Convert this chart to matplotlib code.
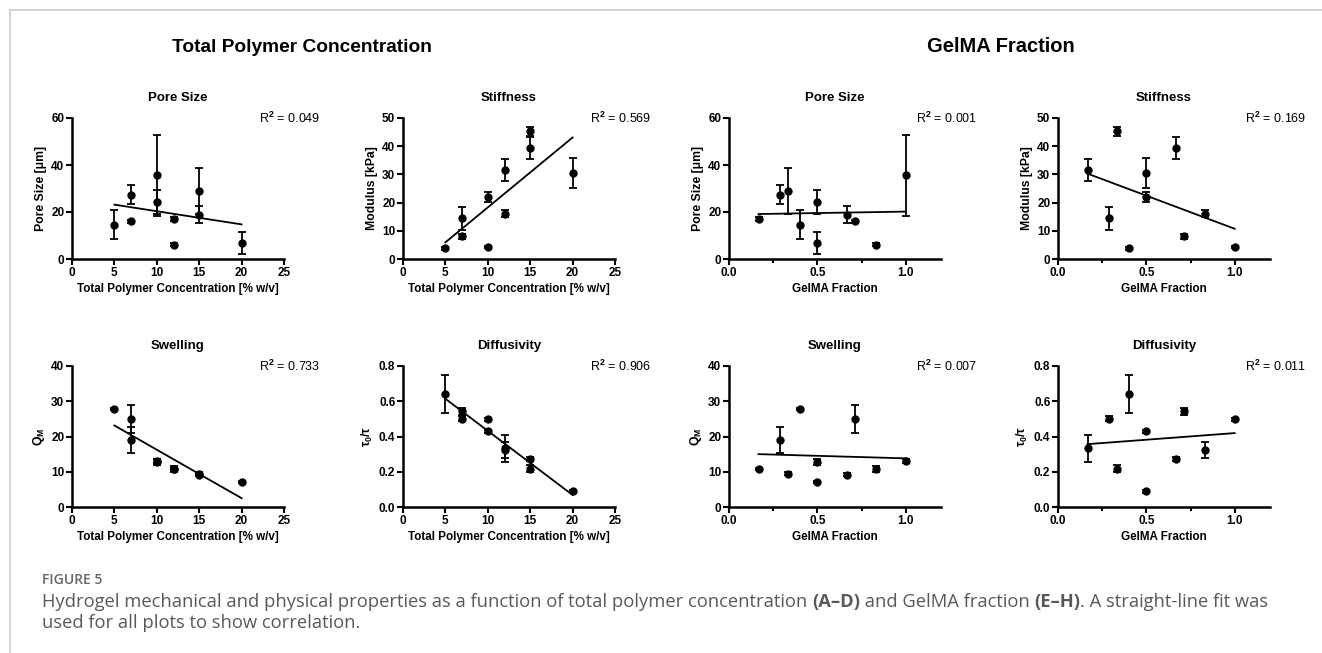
import numpy as np
import matplotlib
matplotlib.use("Agg")
import matplotlib.pyplot as plt
from matplotlib.lines import Line2D

plt.rcParams['font.family'] = ['Liberation Sans', 'DejaVu Sans']
plt.rcParams['mathtext.fontset'] = 'custom'
plt.rcParams['mathtext.rm'] = 'Liberation Sans:bold'
plt.rcParams['mathtext.it'] = 'Liberation Sans:bold'
plt.rcParams['mathtext.bf'] = 'Liberation Sans:bold'

# ten formulations: total polymer concentration [% w/v] and GelMA fraction
conc = [5, 7, 7, 10, 10, 12, 12, 15, 15, 20]
gelma_frac = [0.4, 0.286, 0.714, 1.0, 0.5, 0.167, 0.833, 0.333, 0.667, 0.5]

# measured properties (mean, error) per formulation
pore_mean = [14.6, 27.4, 16.0, 35.7, 24.3, 17.1, 6.1, 29.0, 18.9, 6.9]
pore_err = [6.3, 4.0, 0.8, 17.2, 5.0, 0.8, 0.5, 9.8, 3.7, 4.6]
stiff_mean = [3.8, 14.5, 8.0, 4.2, 22.0, 31.5, 16.1, 45.3, 39.4, 30.4]
stiff_err = [0.5, 4.1, 1.0, 0.4, 1.8, 4.0, 1.2, 1.6, 3.8, 5.3]
swell_mean = [27.9, 19.0, 24.9, 13.0, 12.7, 10.8, 10.7, 9.4, 9.2, 7.0]
swell_err = [0.3, 3.7, 4.0, 0.6, 0.9, 0.4, 0.9, 0.4, 0.4, 0.3]
diff_mean = [0.641, 0.502, 0.544, 0.498, 0.430, 0.332, 0.322, 0.216, 0.273, 0.089]
diff_err = [0.107, 0.015, 0.02, 0.008, 0.008, 0.079, 0.045, 0.02, 0.01, 0.008]

r2_conc = ["0.049", "0.569", "0.733", "0.906"]
r2_frac = ["0.001", "0.169", "0.007", "0.011"]

W, H = 1322, 653
fig = plt.figure(figsize=(W / 100, H / 100), dpi=100)


def px_axes(left, top, width, height):
    return fig.add_axes([left / W, 1 - (top + height) / H, width / W, height / H])


def panel(ax, x, y, err, title, ylabel, xlabel, r2, xlim, xticks, xlabels, ylim, yticks, ylabels, minor=None):
    ax.errorbar(x, y, yerr=err, fmt='o', color='black', markersize=5,
                elinewidth=1.3, capsize=2.7, capthick=1.3, clip_on=False, zorder=3)
    # straight-line fit over the data range
    k, b = np.polyfit(x, y, 1)
    xs = np.array([min(x), max(x)])
    ax.plot(xs, k * xs + b, color='black', lw=1.3)
    ax.set_xlim(xlim)
    ax.set_ylim(ylim)
    ax.set_xticks(xticks)
    ax.set_xticklabels(xlabels)
    ax.set_yticks(yticks)
    ax.set_yticklabels(ylabels)
    if minor is not None:
        ax.set_xticks(minor, minor=True)
        ax.tick_params(axis='x', which='minor', length=3, width=1.5)
    for s in ['top', 'right']:
        ax.spines[s].set_visible(False)
    for s in ['left', 'bottom']:
        ax.spines[s].set_linewidth(1.8)
    ax.tick_params(which='major', length=4, width=1.5, labelsize=8.5, pad=1.5)
    for lab in ax.get_xticklabels() + ax.get_yticklabels():
        lab.set_fontweight('bold')
    ax.set_title(title, fontsize=9.5, fontweight='bold', pad=12)
    ax.set_ylabel(ylabel, fontsize=8.8, fontweight='bold', labelpad=3)
    ax.set_xlabel(xlabel, fontsize=8.4, fontweight='bold', labelpad=3)
    ax.text(1.17, 1.0, "R$^{2}$ = " + r2, transform=ax.transAxes, ha='right', va='center',
            fontsize=9, fontweight='normal')


col_left = [72, 403, 729, 1058]
row_top = [118, 366]
aw, ah = 212, 141

conc_ticks = [0, 5, 10, 15, 20, 25]
conc_labels = [str(t) for t in conc_ticks]
frac_ticks = [0.0, 0.5, 1.0]
frac_labels = ["0.0", "0.5", "1.0"]
xlab_c = "Total Polymer Concentration [% w/v]"
xlab_f = "GelMA Fraction"

props = [
    ("Pore Size", "Pore Size [\u03bcm]", pore_mean, pore_err, (0, 60), [0, 20, 40, 60], ["0", "20", "40", "60"]),
    ("Stiffness", "Modulus [kPa]", stiff_mean, stiff_err, (0, 50), [0, 10, 20, 30, 40, 50],
     ["0", "10", "20", "30", "40", "50"]),
    ("Swelling", "Q$_{M}$", swell_mean, swell_err, (0, 40), [0, 10, 20, 30, 40], ["0", "10", "20", "30", "40"]),
    ("Diffusivity", r"$\tau_0$/$\tau$", diff_mean, diff_err, (0, 0.8), [0, 0.2, 0.4, 0.6, 0.8],
     ["0.0", "0.2", "0.4", "0.6", "0.8"]),
]

for i, (title, ylab, m, e, ylim, yt, yl) in enumerate(props):
    row = i // 2
    c = i % 2
    ax = px_axes(col_left[c], row_top[row], aw, ah)
    panel(ax, conc, m, e, title, ylab, xlab_c, r2_conc[i], (0, 25), conc_ticks, conc_labels, ylim, yt, yl)
    ax = px_axes(col_left[c + 2], row_top[row], aw, ah)
    panel(ax, gelma_frac, m, e, title, ylab, xlab_f, r2_frac[i], (0, 1.2), frac_ticks, frac_labels, ylim, yt, yl,
          minor=[0.25, 0.75])

fig.text(302 / W, 1 - 47 / H, "Total Polymer Concentration", ha='center', va='center',
         fontsize=13.8, fontweight='bold')
fig.text(1001 / W, 1 - 47 / H, "GelMA Fraction", ha='center', va='center',
         fontsize=14.5, fontweight='bold')

# light frame lines of the page
fig.add_artist(Line2D([10 / W, 1], [1 - 10 / H, 1 - 10 / H], color='#cccccc', lw=1.2))
fig.add_artist(Line2D([10 / W, 10 / W], [0, 1 - 10 / H], color='#cccccc', lw=1.2))

# caption
cap_color = '#595959'
fig.text(42 / W, 1 - 580 / H, "FIGURE 5", fontsize=10, color='#666666', family='Open Sans',
         va='center', fontweight='semibold')
renderer = fig.canvas.get_renderer()


def run_text(x_px, y_px, parts):
    for s, wt in parts:
        t = fig.text(x_px / W, 1 - y_px / H, s, fontsize=13.2, color=cap_color, family='Open Sans',
                     fontweight=wt, va='center')
        bb = t.get_window_extent(renderer)
        x_px += bb.width


run_text(42, 602, [("Hydrogel mechanical and physical properties as a function of total polymer concentration ", 'normal'),
                   ("(A\u2013D)", 'bold'),
                   (" and GelMA fraction ", 'normal'),
                   ("(E\u2013H)", 'bold'),
                   (". A straight-line fit was", 'normal')])
run_text(42, 623, [("used for all plots to show correlation.", 'normal')])

fig.savefig("out.png", dpi=100)
